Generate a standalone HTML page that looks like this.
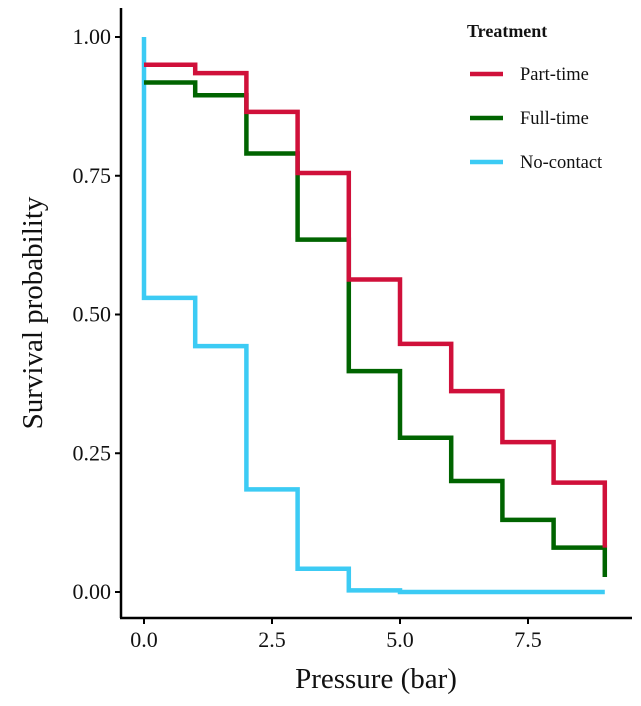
<!DOCTYPE html>
<html><head><meta charset="utf-8"><style>body{margin:0;background:#fff}svg{display:block}text{font-family:"Liberation Serif",serif}</style></head>
<body>
<svg id="chart" width="641" height="706"></svg>
<script>
const times=[0,1,2,3,4,5,6,7,8,9];
const partTime=[0.95,0.935,0.865,0.755,0.563,0.447,0.362,0.27,0.197,0.08];
const fullTime=[0.918,0.895,0.79,0.635,0.398,0.278,0.2,0.13,0.08,0.027];
const noContact=[0.53,0.443,0.185,0.042,0.003,0.0,0.0,0.0,0.0,0.0];
const yTicks=[0,0.25,0.5,0.75,1];
const yTickLabels=["0.00","0.25","0.50","0.75","1.00"];
const xTicks=[0,2.5,5,7.5];
const xTickLabels=["0.0","2.5","5.0","7.5"];
const NS="http://www.w3.org/2000/svg",svg=document.getElementById("chart");
const X=v=>144+v*51.2, Y=v=>592-v*555;
function el(t,a,txt){const e=document.createElementNS(NS,t);for(const k in a)e.setAttribute(k,a[k]);if(txt!=null)e.textContent=txt;svg.appendChild(e);return e;}
let e=el("line",{x1:121,y1:8,x2:121,y2:618,stroke:"#000","stroke-width":2.5});


e=el("line",{x1:120,y1:618,x2:632,y2:618,stroke:"#000","stroke-width":2.5});


yTicks.forEach((v,i)=>{
 let t=el("line",{x1:115,x2:121,y1:Y(v),y2:Y(v),stroke:"#000","stroke-width":2});
 
 
 let l=el("text",{x:111,y:Y(v)+7,"text-anchor":"end","font-size":22,fill:"#111"},yTickLabels[i]);
 
 
});
xTicks.forEach((v,i)=>{
 let t=el("line",{x1:X(v),x2:X(v),y1:618,y2:624,stroke:"#000","stroke-width":2});
 
 
 let l=el("text",{x:X(v),y:647,"text-anchor":"middle","font-size":22,fill:"#111"},xTickLabels[i]);
 
 
});
e=el("text",{x:376,y:688,"text-anchor":"middle","font-size":29,fill:"#111"},"Pressure (bar)");


e=el("text",{x:0,y:0,transform:"translate(42,313) rotate(-90)","text-anchor":"middle","font-size":29,fill:"#111"},"Survival probability");


function stepPath(vals,start){
 let d="M"+X(times[0])+","+Y(start);
 vals.forEach((v,i)=>{d+=" V"+Y(v);if(i<vals.length-1)d+=" H"+X(times[i+1]);});
 return d;
}
function stepPath2(vals){
 let d="M"+X(times[0])+","+Y(vals[0]);
 for(let i=1;i<vals.length;i++){d+=" H"+X(times[i])+" V"+Y(vals[i]);}
 return d;
}
e=el("path",{d:stepPath(noContact,1),fill:"none",stroke:"#3ccbf4","stroke-width":4.5});


e=el("path",{d:stepPath2(fullTime),fill:"none",stroke:"#006400","stroke-width":4.5});


e=el("path",{d:stepPath2(partTime),fill:"none",stroke:"#d0103a","stroke-width":4.5});


e=el("text",{x:467,y:37,"font-size":18,"font-weight":"bold",fill:"#111"},"Treatment");


[["Part-time","#d0103a",74],["Full-time","#006400",118],["No-contact","#3ccbf4",162]].forEach(([n,c,y])=>{
 let l=el("line",{x1:470,x2:503,y1:y,y2:y,stroke:c,"stroke-width":4.5});
 
 
 let t=el("text",{x:520,y:y+6,"font-size":18.5,fill:"#111"},n);
 
 
});
</script>
</body></html>
